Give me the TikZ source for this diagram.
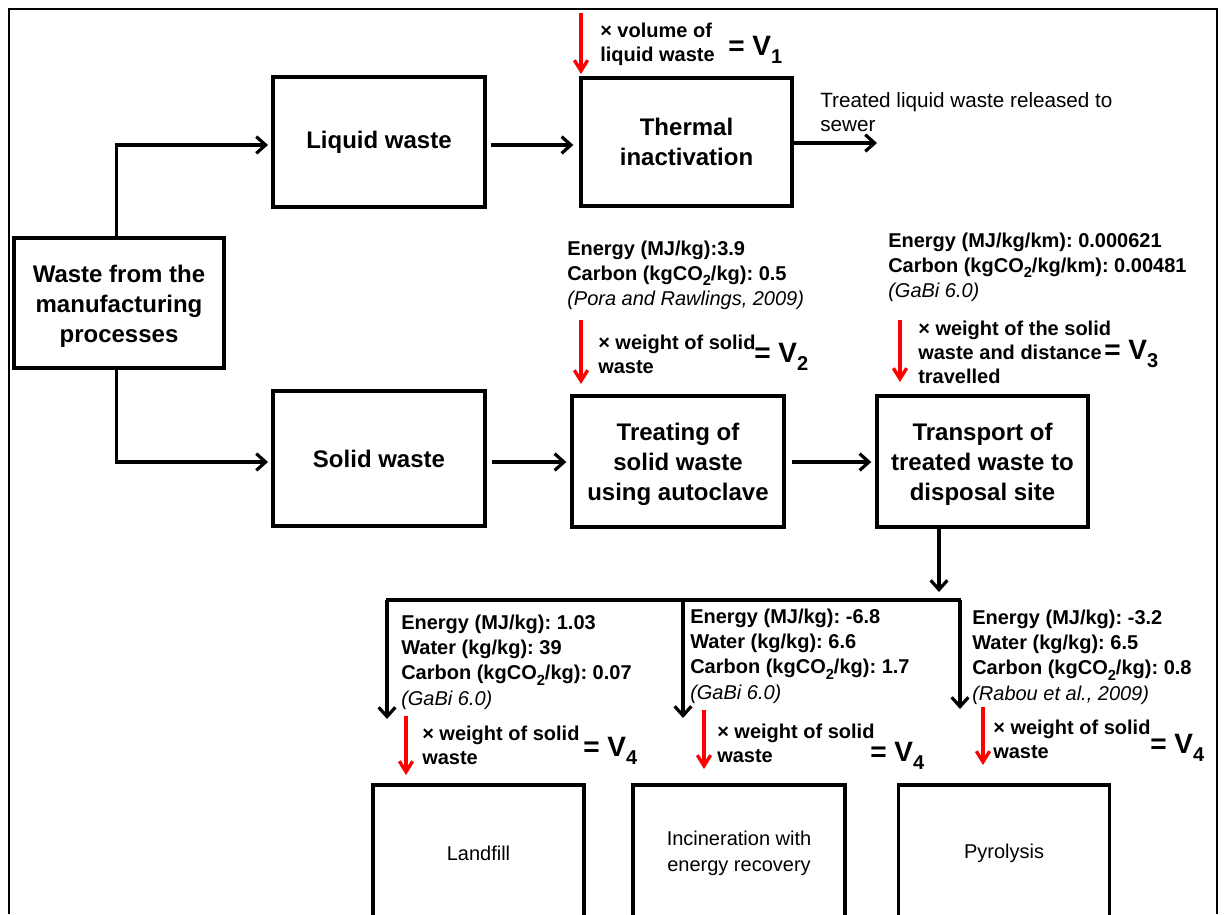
\documentclass[tikz,border=0pt]{standalone}
\usepackage{fontspec}
\setmainfont{Liberation Sans}
\usetikzlibrary{arrows.meta}
\newcommand\fsz[2]{\fontsize{#1}{#2}\selectfont}
% lowered subscripts at fixed sizes
\newcommand\subsm[1]{\raisebox{-0.28em}{\fsz{11}{12}#1}}
\newcommand\subbig[1]{\raisebox{-0.3em}{\fsz{15}{16}#1}}
% taller first line, to set three-line labels a little lower
\newcommand\lowfirst{\rule{0pt}{17.5pt}}
\frenchspacing
\begin{document}
\begin{tikzpicture}[x=0.75pt,y=-0.75pt,
  box/.style={draw, line width=2.5pt, align=center, inner sep=0pt, font=\fsz{18}{22.5}\bfseries},
  plainbox/.style={draw, line width=2.5pt, align=center, inner sep=0pt, font=\fsz{15}{19.5}},
  flow/.style={line width=2.4pt, -{Straight Barb[length=7pt,width=12.5pt]}},
  busline/.style={line width=2.4pt},
  mult/.style={red, line width=2.5pt, -{Straight Barb[length=8pt,width=10pt]}},
  factor/.style={anchor=north west, inner sep=0pt, align=left, font=\fsz{15}{19}\bfseries},
  calcnote/.style={anchor=north west, inner sep=0pt, align=left, font=\fsz{15}{18}\bfseries},
  equals/.style={anchor=base west, inner sep=0pt, font=\fsz{21}{24}\bfseries},
  note/.style={anchor=north west, inner sep=0pt, align=left, font=\fsz{15.5}{18}},
]
\useasboundingbox (0,0) rectangle (1226,914);
% outer frame
\draw[line width=1.6pt] (9,914) -- (9,9) -- (1217,9) -- (1217,914);

% process boxes
\node[box, minimum width=157.5pt, minimum height=97.5pt] (waste) at (119,303) {\lowfirst Waste from the\\manufacturing\\processes};
\node[box, minimum width=159pt, minimum height=97.5pt] (liquid) at (379,142) {Liquid waste};
\node[box, minimum width=158.25pt, minimum height=96pt] (thermal) at (686.5,142) {Thermal\\inactivation};
\node[box, minimum width=159pt, minimum height=101.25pt] (solid) at (379,458.5) {Solid waste};
\node[box, minimum width=159pt, minimum height=98.25pt] (treat) at (678,461.5) {\lowfirst Treating of\\solid waste\\using autoclave};
\node[box, minimum width=158.25pt, minimum height=98.25pt] (transport) at (982.5,461.5) {\lowfirst Transport of\\treated waste to\\disposal site};
\node[plainbox, minimum width=158.25pt, minimum height=102pt] (landfill) at (478.5,853) {Landfill};
\node[plainbox, minimum width=159pt, minimum height=102pt] (incin) at (739,853) {Incineration with\\energy recovery};
\node[plainbox, minimum width=158.25pt, minimum height=102pt] (pyro) at (1004,853) {Pyrolysis};

% main flow
\coordinate (upper) at (0,145);
\coordinate (lower) at (0,462);
\draw[flow, shorten >=2.5pt] ([xshift=-2pt]waste.north) |- (upper -| liquid.west);
\draw[flow, shorten >=2.5pt] ([xshift=-2pt]waste.south) |- (lower -| solid.west);
\draw[flow, shorten >=4.5pt] ([xshift=3pt]upper -| liquid.east) -- (upper -| thermal.west);
\coordinate (sewer) at (877,143);
\draw[flow] (sewer -| thermal.east) -- (sewer);
\node[note] (sewertext) at (820,90) {\strut Treated liquid waste released to\\sewer};
\draw[flow, shorten >=3pt] ([xshift=4pt]lower -| solid.east) -- (lower -| treat.west);
\draw[flow, shorten >=3pt] ([xshift=4.5pt]lower -| treat.east) -- (lower -| transport.west);

% split to the disposal routes
\coordinate (bus) at (939,600);
\coordinate (busL) at (387,600);
\coordinate (busM) at (683,600);
\coordinate (busR) at (960,600);
\draw[flow, shorten >=6pt] (bus |- transport.south) -- (bus);
\draw[busline] ([xshift=-1pt]busL) -- ([xshift=1pt]busR);
\coordinate (endL) at (387,719);
\coordinate (endM) at (683,718);
\coordinate (endR) at (960,709);
\draw[flow] (busL) -- (endL);
\draw[flow] (busM) -- (endM);
\draw[flow] (busR) -- (endR);

% V1
\coordinate (r1a) at (581,13);
\coordinate (r1b) at (581,74);
\draw[mult] (r1a) -- (r1b);
\node[calcnote] (m1) at (600,20) {\strut × volume of\\liquid waste};
\node[equals] (v1) at (728,55) {= V\subbig{1}};

% V2
\node[factor] (f2) at (567,237) {\strut Energy (MJ/kg):3.9\\Carbon (kgCO\subsm{2}/kg): 0.5\\\mdseries\itshape (Pora and Rawlings, 2009)};
\coordinate (r2a) at (581,320);
\coordinate (r2b) at (581,384);
\draw[mult] (r2a) -- (r2b);
\node[calcnote] (m2) at (598,332) {\strut × weight of solid\\waste};
\node[equals] (v2) at (754,362) {= V\subbig{2}};

% V3
\node[factor] (f3) at (888,229) {\strut Energy (MJ/kg/km): 0.000621\\Carbon (kgCO\subsm{2}/kg/km): 0.00481\\\mdseries\itshape (GaBi 6.0)};
\coordinate (r3a) at (900,320);
\coordinate (r3b) at (900,382);
\draw[mult] (r3a) -- (r3b);
\node[calcnote] (m3) at (918,318) {\strut × weight of the solid\\waste and distance\\travelled};
\node[equals] (v3) at (1104,359) {= V\subbig{3}};

% V4, landfill
\node[factor] (f4a) at (401,611) {\strut Energy (MJ/kg): 1.03\\Water (kg/kg): 39\\Carbon (kgCO\subsm{2}/kg): 0.07\\\mdseries\itshape (GaBi 6.0)};
\coordinate (r4a) at (406,716);
\coordinate (r4b) at (406,775);
\draw[mult] (r4a) -- (r4b);
\node[calcnote] (m4a) at (422,723) {\strut × weight of solid\\waste};
\node[equals] (v4a) at (583,756) {= V\subbig{4}};

% V4, incineration
\node[factor] (f4b) at (690,605) {\strut Energy (MJ/kg): -6.8\\Water (kg/kg): 6.6\\Carbon (kgCO\subsm{2}/kg): 1.7\\\mdseries\itshape (GaBi 6.0)};
\coordinate (r5a) at (704,710);
\coordinate (r5b) at (704,769);
\draw[mult] (r5a) -- (r5b);
\node[calcnote] (m4b) at (717,721) {\strut × weight of solid\\waste};
\node[equals] (v4b) at (870,761) {= V\subbig{4}};

% V4, pyrolysis
\node[factor] (f4c) at (972,606) {\strut Energy (MJ/kg): -3.2\\Water (kg/kg): 6.5\\Carbon (kgCO\subsm{2}/kg): 0.8\\\mdseries\itshape (Rabou et al., 2009)};
\coordinate (r6a) at (983,707);
\coordinate (r6b) at (983,765);
\draw[mult] (r6a) -- (r6b);
\node[calcnote] (m4c) at (993,717) {\strut × weight of solid\\waste};
\node[equals] (v4c) at (1150,753) {= V\subbig{4}};
\end{tikzpicture}
\end{document}
